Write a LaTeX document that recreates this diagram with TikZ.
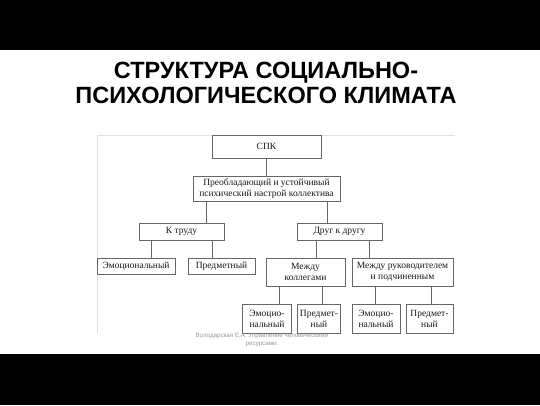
\documentclass[tikz,border=0pt]{standalone}
\usepackage{fontspec}
\setmainfont{Liberation Serif}
\newfontfamily\titlefont{Liberation Sans}
\usetikzlibrary{positioning}

\begin{document}
\begin{tikzpicture}[x=1pt,y=-1pt,semithick]

  \tikzstyle{every box}=[rectangle,draw=black!60,line width=0.9pt,align=center,
                         inner sep=1pt,text=black!90,font=\fontsize{9.5}{11}\selectfont]
  \tikzstyle{link}=[draw=black!60,line width=0.9pt]

  \useasboundingbox (0,0) rectangle (540,405);
  \fill[black] (0,0) rectangle (540,405);
  \fill[white] (0,50) rectangle (540,354);
  \draw[black!12,line width=0.6pt] (97,333) -- (97,135) -- (455,135);

  \node (title) at (266,83) [align=center,font=\titlefont\bfseries\fontsize{23.5}{25.5}\selectfont]
        {СТРУКТУРА СОЦИАЛЬНО-\\ПСИХОЛОГИЧЕСКОГО КЛИМАТА};

  \node[every box,minimum width=109pt,minimum height=23pt] (spk) at (266.5,146.5) {СПК};
  \node[every box,minimum width=147pt,minimum height=25pt] (nastroi) at (266.5,188.5)
        {Преобладающий и устойчивый\\психический настрой коллектива};

  \node[every box,minimum width=85pt,minimum height=17pt] (trud) at (181.5,231.5) {К труду};
  \node[every box,minimum width=85pt,minimum height=17pt] (drug) at (339.5,231.5) {Друг к другу};

  \node[every box,minimum width=78pt,minimum height=16pt] (emo)  at (136,266)   {Эмоциональный};
  \node[every box,minimum width=67pt,minimum height=16pt] (pred) at (221.5,266) {Предметный};
  \node[every box,minimum width=79pt,minimum height=28pt] (koll) at (305.5,272) {Между\\коллегами};
  \node[every box,minimum width=101pt,minimum height=28pt] (ruk) at (402.5,272)
        {Между руководителем\\и подчиненным};

  \node[every box,minimum width=49pt,minimum height=29pt] (emoA)  at (267,318.5)   {Эмоцио-\\нальный};
  \node[every box,minimum width=43pt,minimum height=29pt] (predA) at (319,318.5)   {Предмет-\\ный};
  \node[every box,minimum width=48pt,minimum height=29pt] (emoB)  at (376,318.5)   {Эмоцио-\\нальный};
  \node[every box,minimum width=47pt,minimum height=29pt] (predB) at (429.5,318.5) {Предмет-\\ный};

  \path[link]
  (spk.south) -- (nastroi.north)
  ([xshift=24.5pt]trud.north) -- ([xshift=24.5pt]trud.north |- nastroi.south)
  ([xshift=-12.5pt]drug.north) -- ([xshift=-12.5pt]drug.north |- nastroi.south)

  ([xshift=15pt]emo.north)   -- ([xshift=15pt]emo.north |- trud.south)
  ([xshift=-9.5pt]pred.north) -- ([xshift=-9.5pt]pred.north |- trud.south)
  ([xshift=10.5pt]koll.north) -- ([xshift=10.5pt]koll.north |- drug.south)
  ([xshift=-33.5pt]ruk.north) -- ([xshift=-33.5pt]ruk.north |- drug.south)

  ([xshift=12pt]emoA.north)   -- ([xshift=12pt]emoA.north |- koll.south)
  ([xshift=3pt]predA.north)   -- ([xshift=3pt]predA.north |- koll.south)
  ([xshift=-1pt]emoB.north)   -- ([xshift=-1pt]emoB.north |- ruk.south)
  ([xshift=1.5pt]predB.north) -- ([xshift=1.5pt]predB.north |- ruk.south)
  ;

  \node (footer) at (262,340) [align=center,text=black!40,inner sep=0pt,
        font=\titlefont\fontsize{6.2}{8.5}\selectfont]
        {Володарская Е.А. Управление человеческими\\ресурсами.};
\end{tikzpicture}
\end{document}
